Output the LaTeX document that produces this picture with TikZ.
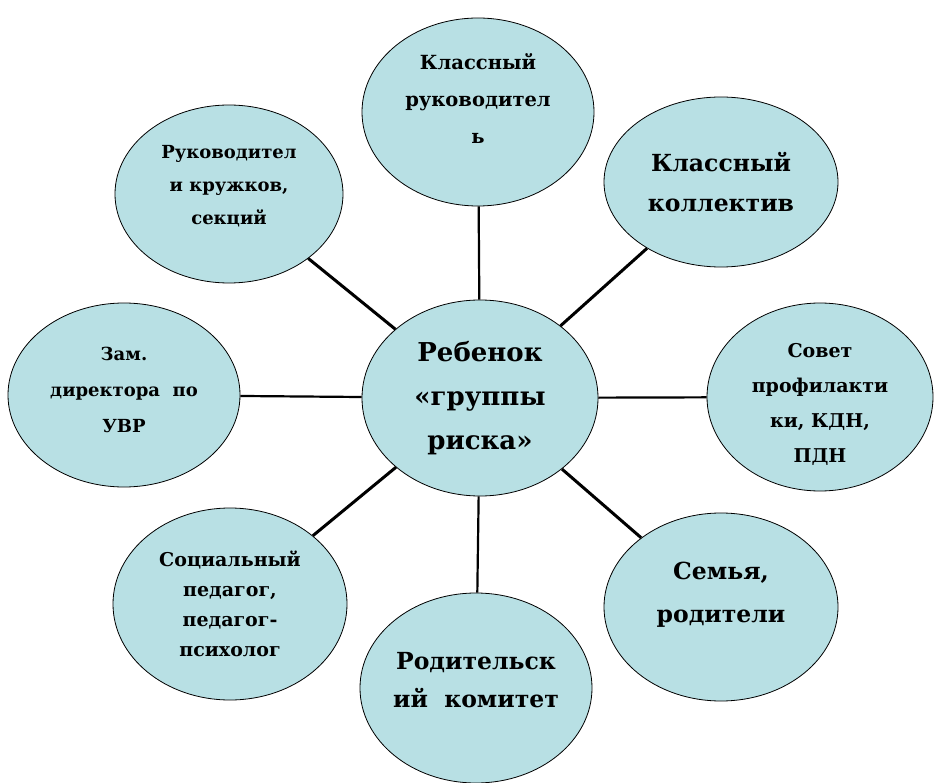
\documentclass[tikz,border=0pt]{standalone}
\usepackage{fontspec}
\setmainfont{DejaVu Serif}
\usetikzlibrary{shapes,positioning}

\definecolor{bubblefill}{RGB}{184,224,228}
\newcommand{\bsize}[2]{\fontsize{#1}{#2}\selectfont}

\tikzset{
  bubble/.style={ellipse, draw=black, line width=0.8pt, fill=bubblefill,
    inner sep=0pt},
  bubbletext/.style={align=center, inner sep=0pt},
  spoke/.style={line width=2.2pt},
  slantspoke/.style={line width=3pt}
}

\begin{document}
\begin{tikzpicture}[x=1pt, y=-1pt]
  \useasboundingbox (0,0) rectangle (934,783);
  % centre
  \node[bubble, minimum width=236, minimum height=196,
    label={[bubbletext, font={\bfseries\bsize{26}{44}}]center:{Ребенок\\«группы\\риска»}}] (child) at (480,398) {};
  % ring
  \node[bubble, minimum width=232, minimum height=188,
    label={[bubbletext, yshift=13pt, font={\bfseries\bsize{19.5}{37}}]center:{Классный\\руководител\\ь}}] (teacher) at (478,112) {};
  \node[bubble, minimum width=234, minimum height=170,
    label={[bubbletext, font={\bfseries\bsize{23.5}{40}}]center:{Классный\\коллектив}}] (classgroup) at (721,182) {};
  \node[bubble, minimum width=226, minimum height=188,
    label={[bubbletext, yshift=-7pt, font={\bfseries\bsize{19}{35}}]center:{Совет\\профилакти\\ки, КДН,\\ПДН}}] (council) at (820,397) {};
  \node[bubble, minimum width=234, minimum height=188,
    label={[bubbletext, yshift=12pt, font={\bfseries\bsize{23.5}{43}}]center:{Семья,\\родители}}] (family) at (721,607) {};
  \node[bubble, minimum width=232, minimum height=190,
    label={[bubbletext, yshift=8pt, font={\bfseries\bsize{23.5}{38}}]center:{Родительск\\ий~~комитет}}] (parents) at (476,688) {};
  \node[bubble, minimum width=234, minimum height=192,
    label={[bubbletext, font={\bfseries\bsize{19}{30}}]center:{Социальный\\педагог,\\педагог-\\психолог}}] (social) at (230,604) {};
  \node[bubble, minimum width=232, minimum height=184,
    label={[bubbletext, yshift=5pt, font={\bfseries\bsize{18}{36}}]center:{Зам.\\директора~~по\\УВР}}] (deputy) at (124,395) {};
  \node[bubble, minimum width=228, minimum height=178,
    label={[bubbletext, yshift=8pt, font={\bfseries\bsize{18}{33}}]center:{Руководител\\и кружков,\\секций}}] (clubs) at (229,194) {};
  % spokes
  \draw[spoke] (child) -- (teacher);
  \draw[slantspoke] (child) -- (classgroup);
  \draw[spoke] (child) -- (council);
  \draw[slantspoke] (child) -- (family);
  \draw[spoke] (child) -- (parents);
  \draw[slantspoke] (child) -- (social);
  \draw[spoke] (child) -- (deputy);
  \draw[slantspoke] (child) -- (clubs);
\end{tikzpicture}
\end{document}
